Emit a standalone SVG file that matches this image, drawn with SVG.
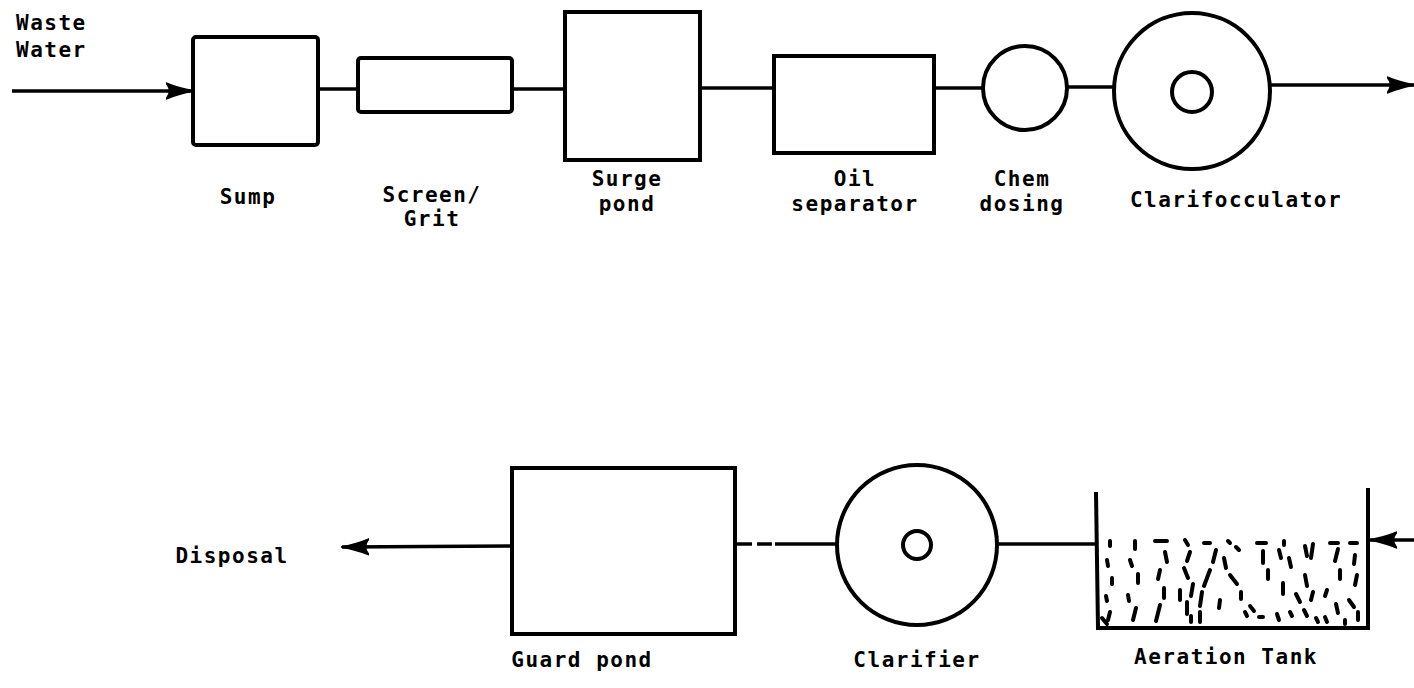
<svg xmlns="http://www.w3.org/2000/svg" width="1414" height="688" viewBox="0 0 1414 688">
<defs>
<style>
.box{fill:none;stroke:#000;stroke-width:4}
.ln{fill:none;stroke:#000;stroke-width:3.5}
.lbl{font-family:"DejaVu Sans Mono","Liberation Mono",monospace;font-size:21px;font-weight:bold;fill:#000;text-anchor:middle;letter-spacing:1.5px}
.dots{fill:none;stroke:#000;stroke-width:4;stroke-linecap:round}
</style>
<marker id="ah" viewBox="0 0 28 18" refX="27" refY="9" markerWidth="28" markerHeight="18" markerUnits="userSpaceOnUse" orient="auto">
<path d="M0,1 Q12,6 28,9 Q12,12 0,17 Q7,9 0,1 Z" fill="#000" stroke="#000" stroke-width="1.5" stroke-linejoin="round"/>
</marker>
</defs>
<rect width="1414" height="688" fill="#fff"/>
<g id="connectors">
<line class="ln" x1="12" y1="91" x2="193" y2="91" marker-end="url(#ah)"/>
<line class="ln" x1="318" y1="89" x2="358" y2="89"/>
<line class="ln" x1="512" y1="89" x2="565" y2="89"/>
<line class="ln" x1="700" y1="88" x2="774" y2="88"/>
<line class="ln" x1="934" y1="88" x2="983" y2="88"/>
<line class="ln" x1="1067" y1="87" x2="1113" y2="87"/>
<line class="ln" x1="1270" y1="85" x2="1414" y2="85" marker-end="url(#ah)"/>
<line class="ln" x1="1414" y1="540" x2="1370" y2="540" marker-end="url(#ah)"/>
<line class="ln" x1="1096" y1="544" x2="997" y2="544"/>
<line class="ln" x1="837" y1="544" x2="735" y2="544" stroke-dasharray="62,3,15,5,20"/>
<line class="ln" x1="512" y1="546" x2="342" y2="547" marker-end="url(#ah)"/>
</g>
<g id="waste-water"><text class="lbl" x="16" y="30" style="text-anchor:start">Waste</text><text class="lbl" x="16" y="57" style="text-anchor:start">Water</text></g>
<g id="sump"><rect class="box" x="193" y="37" width="125" height="108" rx="3"/><text class="lbl" x="248" y="204">Sump</text></g>
<g id="screen-grit"><rect class="box" x="358" y="58" width="154" height="54" rx="3"/><text class="lbl" x="432" y="202">Screen/</text><text class="lbl" x="432" y="226">Grit</text></g>
<g id="surge-pond"><rect class="box" x="565" y="12" width="135" height="148"/><text class="lbl" x="627" y="186">Surge</text><text class="lbl" x="627" y="211">pond</text></g>
<g id="oil-separator"><rect class="box" x="774" y="56" width="160" height="97"/><text class="lbl" x="855" y="186">Oil</text><text class="lbl" x="855" y="211">separator</text></g>
<g id="chem-dosing"><circle class="box" cx="1025" cy="88" r="42"/><text class="lbl" x="1022" y="186">Chem</text><text class="lbl" x="1022" y="211">dosing</text></g>
<g id="clarifocculator"><circle class="box" cx="1192" cy="91" r="78"/><circle class="box" cx="1192" cy="92" r="20"/><text class="lbl" x="1236" y="207">Clarifocculator</text></g>
<g id="disposal"><text class="lbl" x="232" y="563">Disposal</text></g>
<g id="guard-pond"><rect class="box" x="512" y="468" width="223" height="166"/><text class="lbl" x="582" y="667">Guard pond</text></g>
<g id="clarifier"><circle class="box" cx="917" cy="545" r="80"/><circle class="box" cx="917" cy="545" r="14"/><text class="lbl" x="917" y="667">Clarifier</text></g>
<g id="aeration-tank">
<path class="box" d="M1096,492 L1098,628 L1368,628 L1368,488"/>
<g class="dots">
<path d="M1110,541 l0,5 M1107,560 l1,6 M1112,578 l0,6 M1106,596 l1,5 M1110,612 l-2,8 M1102,618 l5,6"/>
<path d="M1135,541 l0,8 M1130,560 l2,6 M1138,574 l0,9 M1128,595 l1,6 M1136,608 l-3,12"/>
<path d="M1155,541 l12,0 M1165,552 l2,10 M1160,570 l-2,9 M1164,588 l0,10 M1160,605 l-4,16"/>
<path d="M1185,540 l3,5 M1190,552 l-3,9 M1184,568 l4,10 M1193,584 l-2,12 M1187,602 l0,12 M1191,616 l0,6 M1180,590 l0,10"/>
<path d="M1204,543 l6,0 M1216,550 l-3,12 M1210,570 l-6,16 M1202,592 l-2,14 M1200,612 l0,10"/>
<path d="M1228,541 l2,2 M1236,547 l3,3 M1224,558 l2,10 M1230,575 l7,9 M1241,592 l0,7 M1245,612 l2,4 M1220,600 l-1,8"/>
<path d="M1257,543 l9,0 M1263,551 l0,12 M1268,570 l0,9 M1250,606 l4,5 M1259,617 l4,0"/>
<path d="M1284,541 l0,4 M1279,550 l2,8 M1289,558 l2,9 M1283,583 l0,11 M1296,594 l4,8 M1277,614 l2,6 M1290,612 l2,4"/>
<path d="M1305,546 l2,10 M1313,544 l-2,14 M1305,575 l2,11 M1313,592 l-2,8 M1304,610 l3,6 M1316,618 l2,4"/>
<path d="M1330,543 l8,0 M1338,549 l-3,12 M1340,570 l0,9 M1327,590 l-2,6 M1336,604 l2,9 M1325,617 l2,5"/>
<path d="M1350,543 l7,0 M1355,555 l-1,9 M1357,575 l-2,10 M1349,600 l5,7 M1358,612 l0,8 M1345,620 l0,4"/>
</g>
<text class="lbl" x="1226" y="664">Aeration Tank</text>
</g>
</svg>
